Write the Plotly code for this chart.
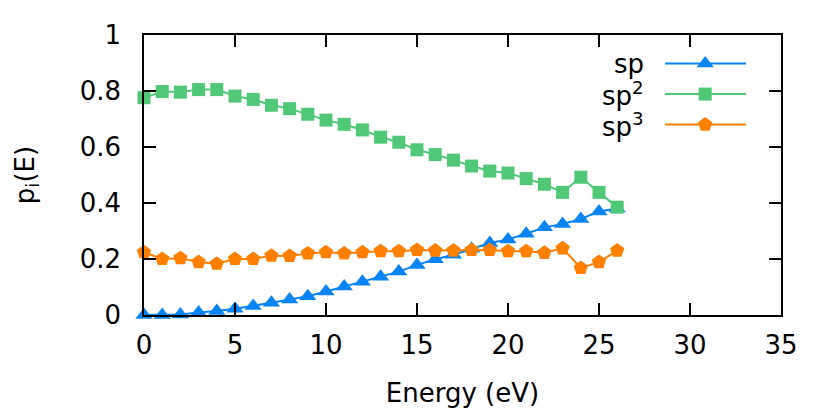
import plotly.graph_objects as go

energy = list(range(0, 27))
sp = [0.0, 0.0, 0.002, 0.009, 0.014, 0.022, 0.032, 0.044, 0.055, 0.067, 0.084, 0.102, 0.119,
      0.137, 0.155, 0.179, 0.199, 0.215, 0.237, 0.257, 0.27, 0.29, 0.313, 0.325, 0.343, 0.37, 0.38]
sp2 = [0.776, 0.798, 0.796, 0.805, 0.805, 0.782, 0.77, 0.749, 0.737, 0.717, 0.696, 0.681, 0.661,
       0.635, 0.617, 0.59, 0.573, 0.553, 0.532, 0.514, 0.507, 0.487, 0.467, 0.438, 0.492, 0.438, 0.385]
sp3 = [0.224, 0.2, 0.203, 0.189, 0.183, 0.2, 0.2, 0.212, 0.211, 0.22, 0.224, 0.22, 0.224,
       0.228, 0.228, 0.232, 0.23, 0.23, 0.232, 0.232, 0.228, 0.228, 0.222, 0.238, 0.168, 0.189, 0.23]

series_names = ["sp", "sp<sup>2</sup>", "sp<sup>3</sup>"]
colors = ["#0a84f5", "#50c878", "#ff8000"]
symbols = ["triangle-up", "square", "pentagon"]
sizes = [15, 13, 15]
values = [sp, sp2, sp3]

x_ticks = [0, 5, 10, 15, 20, 25, 30, 35]
y_ticks = [0, 0.2, 0.4, 0.6, 0.8, 1]
y_ticklabels = ["0", "0.2", "0.4", "0.6", "0.8", "1"]

FONT = "DejaVu Sans"
FS = 26
fig = go.Figure()

for name, vals, c, s, sz in zip(series_names, values, colors, symbols, sizes):
    fig.add_trace(go.Scatter(
        x=energy, y=vals, mode="lines+markers", name=name,
        line=dict(color=c, width=2),
        marker=dict(symbol=s, size=sz, color=c, line=dict(width=0)),
        cliponaxis=False, showlegend=False,
    ))

# Legend (gnuplot style: text right-aligned, sample to the right) on helper axes
leg_rows = [0.898, 0.789, 0.68]
for name, c, s, sz, yy in zip(series_names, colors, symbols, sizes, leg_rows):
    fig.add_trace(go.Scatter(
        x=[0.818, 0.945], y=[yy, yy], xaxis="x2", yaxis="y2", mode="lines",
        line=dict(color=c, width=2), showlegend=False, hoverinfo="skip", cliponaxis=False))
    fig.add_trace(go.Scatter(
        x=[0.881], y=[yy], xaxis="x2", yaxis="y2", mode="markers",
        marker=dict(symbol=s, size=sz, color=c), showlegend=False, hoverinfo="skip", cliponaxis=False))
    fig.add_annotation(x=0.788, y=yy, xref="x2", yref="y2", text=name, showarrow=False,
                       xanchor="right", yanchor="middle", font=dict(family=FONT, size=FS, color="black"))

axis_common = dict(showline=True, linecolor="black", linewidth=1.5, mirror="ticks",
                   ticks="inside", ticklen=12, tickwidth=1.5, tickcolor="black",
                   showgrid=False, zeroline=False,
                   tickfont=dict(family=FONT, size=FS, color="black"))

# page has an 8px body margin; compensate so the plot area lands where the reference has it
fig.update_layout(
    width=822, height=407,
    margin=dict(l=136, r=49, t=24, b=99),
    paper_bgcolor="white", plot_bgcolor="white",
    xaxis=dict(range=[0, 35], tickvals=x_ticks, ticklabelstandoff=6,
               title=dict(text="Energy (eV)", font=dict(family=FONT, size=FS, color="black"), standoff=25),
               **axis_common),
    yaxis=dict(range=[0, 1], tickvals=y_ticks, ticktext=y_ticklabels, ticklabelstandoff=16,
               title=dict(text="p<sub>i</sub>(E)", font=dict(family=FONT, size=FS, color="black"), standoff=38),
               **axis_common),
    xaxis2=dict(range=[0, 1], overlaying="x", visible=False, fixedrange=True),
    yaxis2=dict(range=[0, 1], overlaying="y", visible=False, fixedrange=True),
    showlegend=False,
)

fig.write_html("out.html")
